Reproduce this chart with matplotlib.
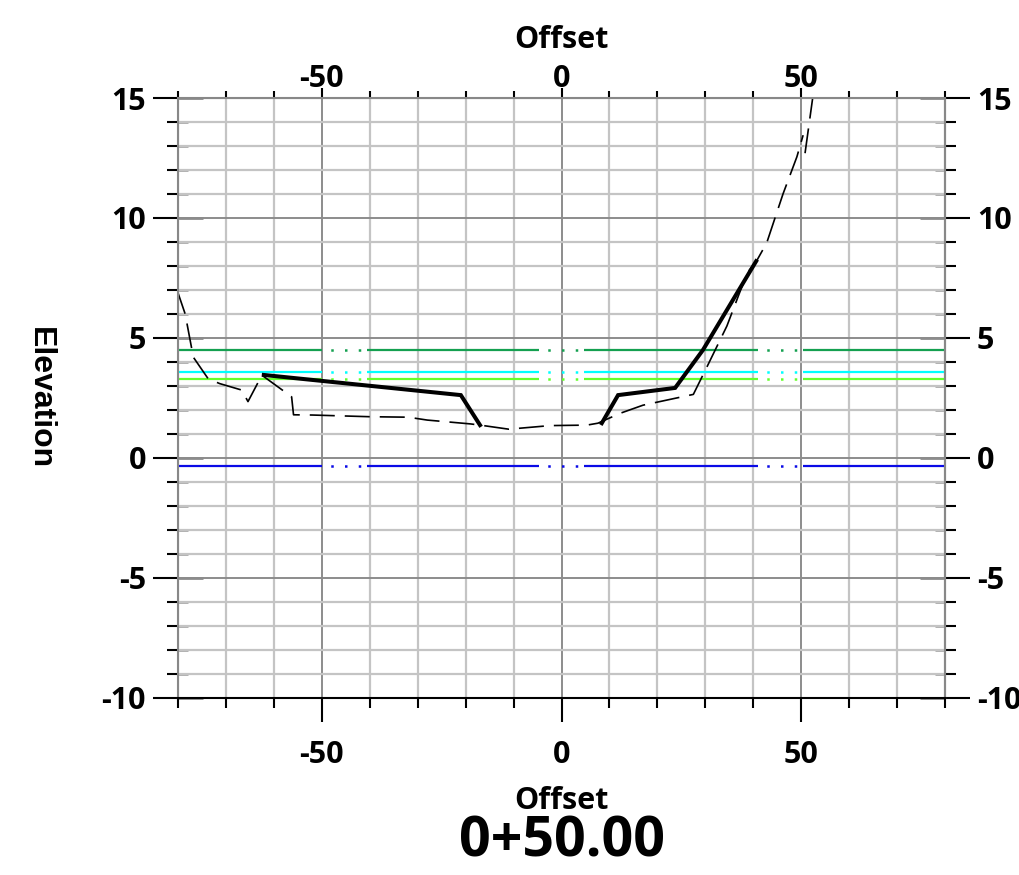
import matplotlib
matplotlib.use('Agg')
import matplotlib.pyplot as plt
from matplotlib.ticker import MultipleLocator

plt.rcParams['font.family'] = ['Open Sans', 'DejaVu Sans']
plt.rcParams['axes.unicode_minus'] = False

# existing ground (dashed)
ground_x = [-80.2, -78.5, -76.8, -73.7, -71.3, -66.7, -65.4, -62.5, -56.3, -55.9,
            -52.0, -40.0, -32.0, -28.0, -19.0, -17.0, -11.0, -2.4, 5.3, 7.6,
            12.2, 17.0, 27.5, 30.2, 34.5, 38.7, 40.8, 42.8, 46.2, 49.1, 50.4]
ground_y = [7.0, 6.0, 4.2, 3.3, 3.1, 2.83, 2.35, 3.45, 2.55, 1.8,
            1.79, 1.72, 1.7, 1.58, 1.42, 1.37, 1.2, 1.35, 1.37, 1.45,
            1.86, 2.2, 2.65, 3.74, 5.5, 7.7, 8.25, 8.96, 11.0, 12.55, 13.45]
ground2_x = [50.8, 52.6]
ground2_y = [12.7, 15.3]

# proposed section (thick)
left_x = [-62.1, -21.0, -17.0]
left_y = [3.46, 2.62, 1.37]
right_x = [8.4, 11.8, 23.7, 29.5, 40.6]
right_y = [1.45, 2.62, 2.92, 4.5, 8.2]

# water surface lines
wse_levels = [4.5, 3.58, 3.29, -0.33]
wse_colors = ['#14a050', '#00ffff', '#66ff2a', '#0a0ae6']
solid_spans = [(-80, -50), (-40.5, -4.7), (4.7, 41), (50.4, 80)]
dotted_spans = [(-50, -40.5), (-4.7, 4.7), (41, 50.4)]

fig = plt.figure(figsize=(10.2, 8.75), dpi=100)
ax = fig.add_axes([0.1745, 0.2023, 0.752, 0.6857])
ax.set_xlim(-80, 80)
ax.set_ylim(-10, 15)

for lvl, col in zip(wse_levels, wse_colors):
    for a, b in solid_spans:
        ax.plot([a, b], [lvl, lvl], color=col, lw=1.6, solid_capstyle='butt')
    for a, b in dotted_spans:
        ax.plot([a, b], [lvl, lvl], color=col, lw=1.8, linestyle=(2, (1, 4.5)))

dash = (0, (15, 6))
ax.plot(ground_x, ground_y, color='black', lw=1.2, linestyle=dash)
ax.plot(ground2_x, ground2_y, color='black', lw=1.2, linestyle=dash)
ax.plot(left_x, left_y, color='black', lw=2.9, solid_joinstyle='miter')
ax.plot(right_x, right_y, color='black', lw=2.9, solid_joinstyle='miter')

# grid and ticks
ax.xaxis.set_major_locator(MultipleLocator(50))
ax.xaxis.set_minor_locator(MultipleLocator(10))
ax.yaxis.set_major_locator(MultipleLocator(5))
ax.yaxis.set_minor_locator(MultipleLocator(1))
ax.set_axisbelow(True)
ax.grid(which='minor', color='#c4c4c4', lw=1.6)
ax.grid(which='major', color='#8c8c8c', lw=1.4)

for s in ['left', 'top', 'right']:
    ax.spines[s].set_color('#888888')
    ax.spines[s].set_linewidth(1.5)
ax.spines['bottom'].set_color('black')
ax.spines['bottom'].set_linewidth(1.5)

lab = dict(labelsize=22)
ax.tick_params(axis='x', which='major', direction='out', length=17, width=1.5,
               color='black', pad=13, **lab)
ax.tick_params(axis='x', which='minor', direction='out', length=7, width=1.5, color='black')
ax.tick_params(axis='y', which='major', direction='out', length=18, width=1.5,
               color='black', pad=5, **lab)
ax.tick_params(axis='y', which='minor', direction='out', length=8, width=1.5, color='black')
for t in ax.get_xticklabels() + ax.get_yticklabels():
    t.set_fontweight('bold')

secr = ax.secondary_yaxis('right')
secr.yaxis.set_major_locator(MultipleLocator(5))
secr.yaxis.set_minor_locator(MultipleLocator(1))
secr.tick_params(which='major', direction='out', length=18, width=1.5, color='black', pad=5, **lab)
secr.tick_params(which='minor', direction='out', length=8, width=1.5, color='black')
secr.spines['right'].set_color('#888888')
for t in secr.get_yticklabels():
    t.set_fontweight('bold')

# gray inner ticks
for side in ['left', 'right']:
    inner = ax.secondary_yaxis(side)
    inner.yaxis.set_major_locator(MultipleLocator(5))
    inner.yaxis.set_minor_locator(MultipleLocator(1))
    inner.tick_params(which='major', direction='in', length=18, width=2, color='#8c8c8c',
                      labelleft=False, labelright=False)
    inner.tick_params(which='minor', direction='in', length=7, width=2, color='#a8a8a8',
                      labelleft=False, labelright=False)
    for s in inner.spines.values():
        s.set_visible(False)

sect = ax.secondary_xaxis('top')
sect.xaxis.set_major_locator(MultipleLocator(50))
sect.xaxis.set_minor_locator(MultipleLocator(10))
sect.tick_params(which='major', direction='out', length=7, width=1.5, color='black', pad=-4, **lab)
sect.tick_params(which='minor', direction='out', length=5, width=1.5, color='black')
sect.spines['top'].set_color('#888888')
for t in sect.get_xticklabels():
    t.set_fontweight('bold')

fig.text(0.5505, 1 - 40 / 875, 'Offset', fontsize=22, fontweight='bold',
         ha='center', va='center')
ax.set_xlabel('Offset', fontsize=22, fontweight='bold', va='center')
ax.xaxis.set_label_coords(0.5, -0.172)
ax.set_ylabel('Elevation', fontsize=23, fontweight='bold', rotation=270,
              family='Liberation Sans', va='center')
ax.yaxis.set_label_coords(-0.18, 0.5)

fig.text(0.5505, 0.0377, '0+50.00', fontsize=40, fontweight='bold',
         ha='center', va='center')

fig.savefig('out.png', dpi=100)
